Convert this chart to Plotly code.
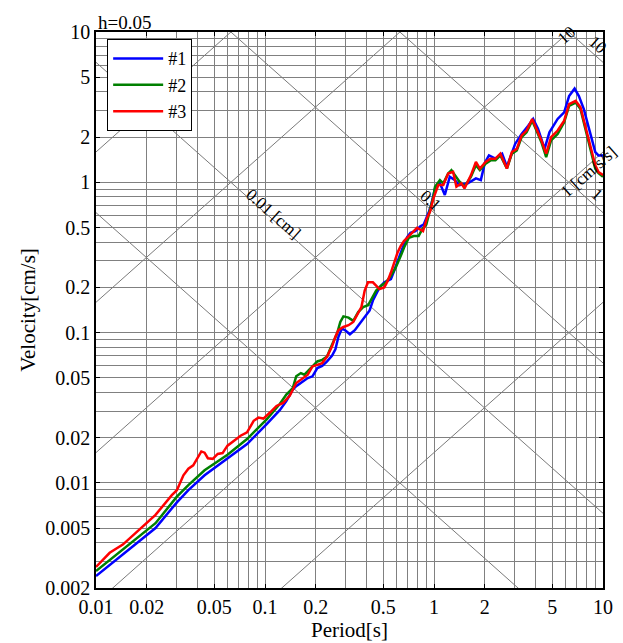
import numpy as np
import plotly.graph_objects as go

# ---------------- data ----------------
period_1 = [0.01, 0.0144, 0.018, 0.0225, 0.0301, 0.0352, 0.0439, 0.060, 0.0783, 0.1023,
            0.1223, 0.1337, 0.146, 0.153, 0.163, 0.179, 0.191, 0.204, 0.218, 0.233,
            0.249, 0.261, 0.272, 0.285, 0.298, 0.318, 0.340, 0.364, 0.389, 0.416,
            0.435, 0.455, 0.476, 0.508, 0.556, 0.581, 0.608, 0.636, 0.664, 0.695,
            0.726, 0.776, 0.830, 0.868, 0.927, 0.960, 1.014, 1.084, 1.159, 1.240,
            1.325, 1.416, 1.584, 1.770, 1.893, 2.0, 2.115, 2.31, 2.53, 2.70,
            3.02, 3.30, 3.61, 3.86, 4.13, 4.51, 4.82, 5.39, 5.89, 6.30,
            6.79, 7.20, 7.70, 8.41, 9.00, 9.41, 10.0]
velocity_1 = [0.0024, 0.00334, 0.00409, 0.00501, 0.00743, 0.00895, 0.01124, 0.01446, 0.01815, 0.0246,
              0.0305, 0.035, 0.0418, 0.0440, 0.0462, 0.0499, 0.0512, 0.0581, 0.0601, 0.0643,
              0.070, 0.0774, 0.0938, 0.1064, 0.1038, 0.0975, 0.1038, 0.1148, 0.127, 0.1406,
              0.1636, 0.181, 0.200, 0.216, 0.227, 0.258, 0.292, 0.340, 0.386, 0.433,
              0.461, 0.473, 0.51, 0.523, 0.624, 0.70, 0.912, 0.985, 0.824, 1.089,
              1.035, 0.959, 0.985, 1.062, 1.035, 1.35, 1.51, 1.44, 1.55, 1.27,
              1.80, 2.10, 2.38, 2.64, 2.26, 1.67, 2.15, 2.64, 2.92, 3.75,
              4.20, 3.75, 3.07, 2.15, 1.59, 1.51, 1.51]

period_2 = [0.01, 0.0144, 0.018, 0.0225, 0.0301, 0.0352, 0.0439, 0.060, 0.0783, 0.1023,
            0.1223, 0.1337, 0.146, 0.153, 0.163, 0.171, 0.191, 0.204, 0.218, 0.233,
            0.244, 0.255, 0.267, 0.279, 0.291, 0.312, 0.333, 0.356, 0.381, 0.407,
            0.435, 0.455, 0.486, 0.520, 0.556, 0.594, 0.636, 0.664, 0.710, 0.759,
            0.811, 0.849, 0.900, 0.940, 0.991, 1.014, 1.084, 1.135, 1.213, 1.268,
            1.357, 1.416, 1.515, 1.655, 1.77, 1.868, 2.02, 2.16, 2.31, 2.47,
            2.70, 2.89, 3.09, 3.30, 3.53, 3.81, 4.04, 4.32, 4.61, 4.93,
            5.39, 5.89, 6.30, 6.89, 7.36, 7.87, 8.41, 9.0, 9.41, 10.0]
velocity_2 = [0.00259, 0.0036, 0.00441, 0.0054, 0.0081, 0.00966, 0.01213, 0.01538, 0.0196, 0.0265,
              0.0335, 0.0387, 0.0428, 0.0512, 0.0538, 0.0525, 0.0596, 0.0643, 0.0659, 0.0693,
              0.0787, 0.0892, 0.0986, 0.1178, 0.1283, 0.1258, 0.1197, 0.137, 0.148, 0.152,
              0.172, 0.1905, 0.205, 0.216, 0.239, 0.271, 0.324, 0.367, 0.428, 0.439,
              0.439, 0.485, 0.523, 0.640, 0.80, 0.935, 1.035, 0.985, 1.145, 1.205,
              1.089, 1.009, 0.935, 1.089, 1.30, 1.205, 1.33, 1.40, 1.40, 1.51,
              1.235, 1.55, 1.63, 2.0, 2.15, 2.57, 2.21, 1.85, 1.47, 1.90,
              2.10, 2.51, 3.22, 3.39, 3.07, 2.26, 1.67, 1.23, 1.15, 1.09]

period_3 = [0.01, 0.01205, 0.01441, 0.018, 0.0225, 0.0281, 0.0301, 0.0329, 0.0352, 0.0376,
            0.0402, 0.0420, 0.0439, 0.0459, 0.0491, 0.0525, 0.0561, 0.0600, 0.0656, 0.0717,
            0.0783, 0.0857, 0.0916, 0.0979, 0.107, 0.117, 0.128, 0.140, 0.153, 0.167,
            0.179, 0.191, 0.204, 0.218, 0.233, 0.249, 0.261, 0.272, 0.291, 0.312,
            0.333, 0.356, 0.372, 0.389, 0.407, 0.435, 0.455, 0.476, 0.508, 0.532,
            0.556, 0.581, 0.608, 0.636, 0.664, 0.695, 0.726, 0.759, 0.794, 0.830,
            0.861, 0.908, 0.948, 0.991, 1.06, 1.135, 1.213, 1.297, 1.357, 1.45,
            1.515, 1.655, 1.77, 1.868, 2.02, 2.16, 2.31, 2.47, 2.70, 2.89,
            3.09, 3.30, 3.53, 3.81, 4.04, 4.32, 4.61, 4.93, 5.39, 5.89,
            6.30, 6.89, 7.36, 7.87, 8.41, 9.0, 9.41, 10.0]
velocity_3 = [0.00276, 0.00343, 0.00389, 0.00489, 0.00613, 0.0083, 0.00895, 0.01124, 0.01245, 0.0131,
              0.0148, 0.0162, 0.0159, 0.0146, 0.01446, 0.0156, 0.0158, 0.0177, 0.0191, 0.0206,
              0.0217, 0.0259, 0.0272, 0.0268, 0.0294, 0.0325, 0.0341, 0.0380, 0.0462, 0.0499,
              0.0525, 0.0596, 0.0611, 0.0627, 0.0693, 0.0807, 0.0938, 0.1038, 0.109, 0.112,
              0.1178, 0.1336, 0.148, 0.1905, 0.216, 0.216, 0.205, 0.195, 0.200, 0.221,
              0.251, 0.292, 0.340, 0.377, 0.406, 0.428, 0.450, 0.473, 0.498, 0.485,
              0.473, 0.578, 0.640, 0.78, 0.959, 0.959, 1.145, 1.175, 0.935, 0.985,
              0.912, 1.117, 1.366, 1.235, 1.366, 1.435, 1.435, 1.55, 1.235, 1.59,
              1.67, 2.05, 2.21, 2.64, 2.26, 1.90, 1.55, 2.0, 2.21, 2.57,
              3.31, 3.48, 3.15, 2.38, 1.76, 1.30, 1.17, 1.12]

series_names = ["#1", "#2", "#3"]
series_colors = ["#0000FF", "#008000", "#FF0000"]

x_tick_vals = [0.01, 0.02, 0.05, 0.1, 0.2, 0.5, 1, 2, 5, 10]
x_tick_text = ["0.01", "0.02", "0.05", "0.1", "0.2", "0.5", "1", "2", "5", "10"]
y_tick_vals = [0.002, 0.005, 0.01, 0.02, 0.05, 0.1, 0.2, 0.5, 1, 2, 5, 10]
y_tick_text = ["0.002", "0.005", "0.01", "0.02", "0.05", "0.1", "0.2", "0.5", "1", "2", "5", "10"]

# tripartite reference lines
disp_levels = [0.001, 0.01, 0.1, 1, 10]        # cm
acc_levels = [0.1, 1, 10, 100, 1000]           # cm/s/s

# label text, anchor (period, velocity), pixel nudge (dx, dy)
disp_label_specs = [("0.01 [cm]", 0.1037, 0.655, 5, -4),
                    ("0.1", 0.834, 0.807, 10, -4),
                    ("1", 8.19, 0.858, 9, -2),
                    ("10", 8.19, 8.09, 9, 1)]
acc_label_specs = [("1 [cm/s/s]", 7.34, 1.233, 9, -3),
                   ("10", 5.35, 9.5, 9, 0)]

FONT = "Liberation Serif"
GRID = "#808080"

fig = go.Figure()

T_line = np.logspace(-2, 1, 200)
for D in disp_levels:
    fig.add_trace(go.Scatter(x=T_line, y=2 * np.pi * D / T_line, mode="lines",
                             line=dict(color="#7a7a7a", width=1), showlegend=False,
                             hoverinfo="skip"))
for A in acc_levels:
    fig.add_trace(go.Scatter(x=T_line, y=A * T_line / (2 * np.pi), mode="lines",
                             line=dict(color="#7a7a7a", width=1), showlegend=False,
                             hoverinfo="skip"))

for p, v, name, col in zip([period_1, period_2, period_3],
                           [velocity_1, velocity_2, velocity_3],
                           series_names, series_colors):
    fig.add_trace(go.Scatter(x=p, y=v, mode="lines", name=name,
                             line=dict(color=col, width=2.5)))


def decade_vals(lo_exp, hi_exp, vmin, vmax):
    out = []
    for e in range(lo_exp, hi_exp + 1):
        for m in range(1, 10):
            val = m * 10.0 ** e
            if vmin * 0.999 <= val <= vmax * 1.001:
                out.append(val)
    return out


x_minor = decade_vals(-2, 1, 0.01, 10)
y_minor = decade_vals(-3, 1, 0.002, 10)

ang = float(np.degrees(np.arctan((562 / np.log10(10 / 0.002)) / (517 / 3))))

annotations = []
for specs, a in ((disp_label_specs, ang), (acc_label_specs, -ang)):
    for txt, T, v, dx, dy in specs:
        annotations.append(dict(x=float(np.log10(T)), y=float(np.log10(v)), xref="x", yref="y",
                                xanchor="center", yanchor="middle", xshift=dx, yshift=dy,
                                text=txt, showarrow=False, textangle=a,
                                font=dict(family=FONT, size=17, color="black")))

annotations.append(dict(x=0, y=1, xref="paper", yref="paper", xanchor="left",
                        yanchor="bottom", text="h=0.05", showarrow=False,
                        yshift=-3, font=dict(family=FONT, size=19, color="black")))

axis_common = dict(type="log", showline=True, linecolor="black", linewidth=1.5,
                   mirror="allticks", ticks="inside", ticklen=4, tickcolor="black",
                   tickwidth=1, showgrid=True, gridcolor=GRID, gridwidth=1.4,
                   zeroline=False, tickfont=dict(family=FONT, size=20, color="black"))

fig.update_layout(
    width=623, height=643,
    margin=dict(l=96, r=10, t=32, b=49),
    paper_bgcolor="white", plot_bgcolor="white",
    font=dict(family=FONT, size=20, color="black"),
    showlegend=True,
    legend=dict(x=0.022, y=0.987, xanchor="left", yanchor="top",
                bgcolor="white", bordercolor="black", borderwidth=1,
                font=dict(family=FONT, size=18, color="black"),
                itemwidth=50, tracegroupgap=0),
    xaxis=dict(range=[-2, 1], tickmode="array", tickvals=x_tick_vals, ticktext=x_tick_text,
               title=dict(text="Period[s]", standoff=1, font=dict(family=FONT, size=21)),
               minor=dict(tickmode="array", tickvals=x_minor, showgrid=True,
                          gridcolor=GRID, gridwidth=1.4, ticks=""),
               **axis_common),
    yaxis=dict(range=[np.log10(0.002), 1], tickmode="array", tickvals=y_tick_vals,
               ticktext=y_tick_text,
               title=dict(text="Velocity[cm/s]", standoff=4, font=dict(family=FONT, size=21)),
               minor=dict(tickmode="array", tickvals=y_minor, showgrid=True,
                          gridcolor=GRID, gridwidth=1.4, ticks=""),
               **axis_common),
    annotations=annotations,
)

fig.write_html("out.html")
